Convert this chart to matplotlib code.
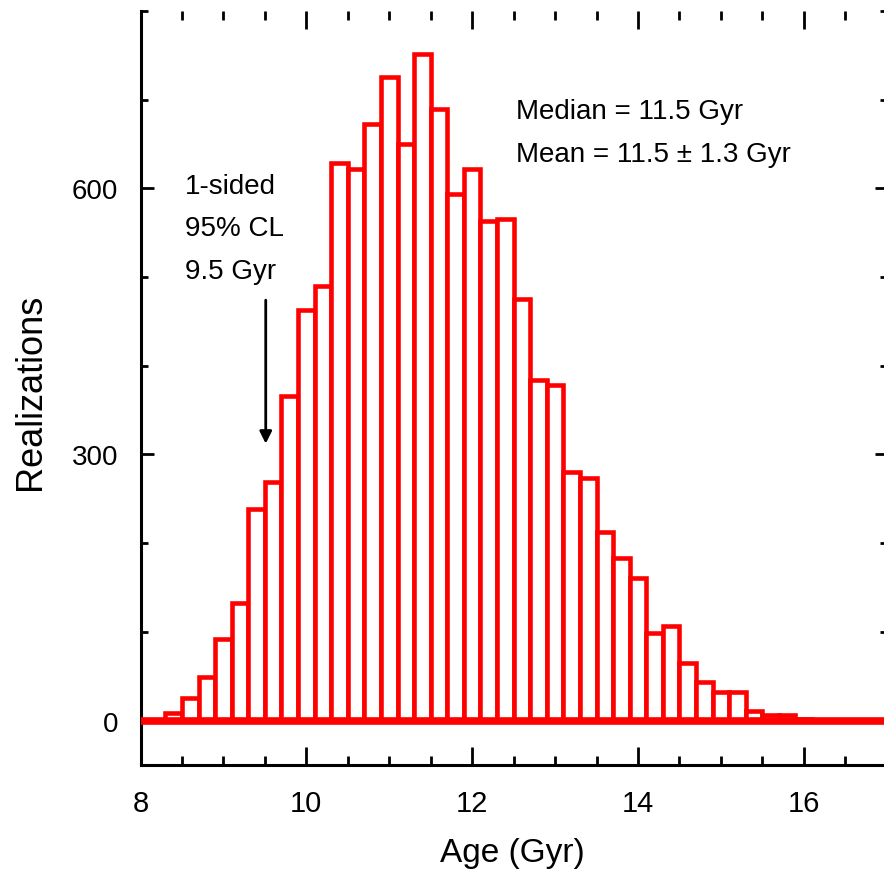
import matplotlib
matplotlib.use('Agg')
import matplotlib.pyplot as plt
from matplotlib.ticker import MultipleLocator

plt.rcParams['font.family'] = ['Liberation Sans', 'DejaVu Sans']

# histogram: left bin edges (Gyr) and counts, bin width 0.2 Gyr
bin_left = [8.3, 8.5, 8.7, 8.9, 9.1, 9.3, 9.5, 9.7, 9.9, 10.1,
            10.3, 10.5, 10.7, 10.9, 11.1, 11.3, 11.5, 11.7, 11.9, 12.1,
            12.3, 12.5, 12.7, 12.9, 13.1, 13.3, 13.5, 13.7, 13.9, 14.1,
            14.3, 14.5, 14.7, 14.9, 15.1, 15.3, 15.5, 15.7, 15.9, 16.1,
            16.3, 16.5]
counts = [9, 25, 49, 92, 132, 238, 269, 366, 463, 490,
          628, 622, 672, 725, 650, 751, 689, 594, 622, 563,
          565, 475, 384, 378, 280, 273, 212, 183, 161, 99,
          107, 65, 44, 32, 32, 11, 6, 6, 2, 1,
          1, 1]
bin_width = 0.2

x_major = [8, 10, 12, 14, 16]
y_major = [0, 300, 600]

cl_x, cl_top, cl_tip = 9.51, 477, 309
cl_lines = ['1-sided', '95% CL', '9.5 Gyr']
stats_lines = ['Median = 11.5 Gyr', 'Mean = 11.5 \u00b1 1.3 Gyr']

fig = plt.figure(figsize=(8.84, 8.79), dpi=100)
ax = fig.add_axes([0.159, 0.1286, 0.844, 0.858])

ax.bar(bin_left, counts, width=bin_width, align='edge', color='white',
       edgecolor='#ff0000', linewidth=3.3, zorder=2)
ax.axhline(0, color='#ff0000', linewidth=5.5, zorder=3)

ax.set_xlim(8, 17)
ax.set_ylim(-50, 800)
ax.set_xticks(x_major)
ax.set_yticks(y_major)
ax.xaxis.set_minor_locator(MultipleLocator(0.5))
ax.yaxis.set_minor_locator(MultipleLocator(100))

for side in ['top', 'right']:
    ax.spines[side].set_visible(False)
for side in ['left', 'bottom']:
    ax.spines[side].set_linewidth(2.2)

ax.tick_params(axis='x', which='both', direction='in', top=True, width=2.0,
               labelsize=21, pad=17)
ax.tick_params(axis='x', which='major', length=13)
ax.tick_params(axis='x', which='minor', length=6.5)
ax.tick_params(axis='y', which='both', direction='in', right=True, width=2.0,
               labelsize=20, pad=16)
ax.tick_params(axis='y', which='major', length=9)
ax.tick_params(axis='y', which='minor', length=5)

ax.set_xlabel('Age (Gyr)', fontsize=24)
ax.xaxis.set_label_coords(0.498, -0.095)
ax.set_ylabel('Realizations', fontsize=26)
ax.yaxis.set_label_coords(-0.124, 0.496)

for i, line in enumerate(cl_lines):
    ax.text(8.54, 603 - i * 48, line, fontsize=20, ha='left', va='center')
ax.annotate('', xy=(cl_x, cl_tip), xytext=(cl_x, cl_top),
            arrowprops=dict(arrowstyle='-|>', color='black', lw=2,
                            mutation_scale=18))

for i, line in enumerate(stats_lines):
    ax.text(12.53, 687 - i * 48, line, fontsize=20, ha='left', va='center')

fig.savefig('out.png', dpi=100)
plt.close(fig)
